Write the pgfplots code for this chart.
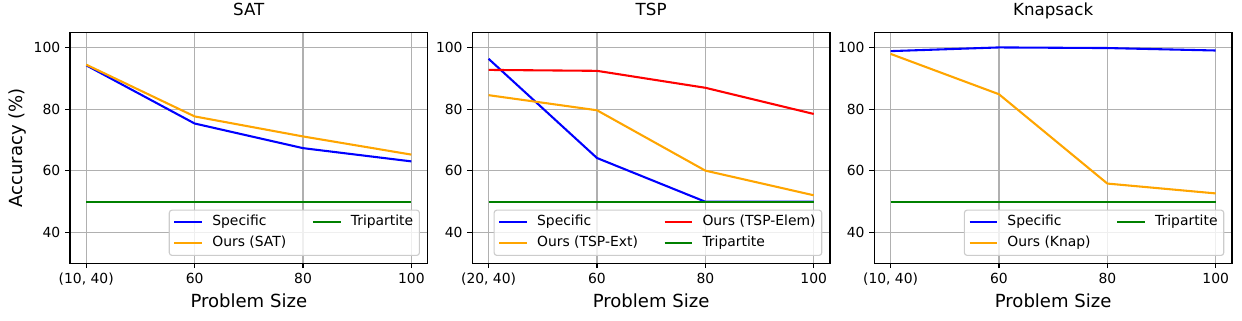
\documentclass[border=0pt]{standalone}
\usepackage{pgfplots}
\pgfplotsset{compat=1.18}
\usepackage{fontspec}
\setmainfont{DejaVu Sans}
\definecolor{mblue}{RGB}{0,0,255}
\definecolor{morange}{RGB}{255,165,0}
\definecolor{mgreen}{RGB}{0,128,0}
\definecolor{mred}{RGB}{255,0,0}
\definecolor{mgrid}{RGB}{176,176,176}
\definecolor{medge}{RGB}{204,204,204}
\pgfplotsset{
 myax/.style={
  width=257.5pt, height=166.32pt, scale only axis,
  xmin=-0.15, xmax=3.15, ymin=30, ymax=105,
  xtick={0,1,2,3}, ytick={40,60,80,100},
  tick align=outside, tick pos=left,
  major tick length=3.5pt,
  tick style={black, line width=0.8pt},
  axis line style={line width=0.8pt},
  grid=major, major grid style={mgrid, line width=0.8pt},
  tick label style={font=\fontsize{10}{12}\selectfont},
  /pgf/number format/assume math mode=true,
  title style={font=\fontsize{12}{14}\selectfont, at={(axis description cs:0.5,1.036)}, anchor=base},
  xlabel style={font=\fontsize{13}{15}\selectfont, at={(axis description cs:0.5,-0.19)}, anchor=base},
  xlabel={Problem Size},
  every axis plot/.append style={line width=1.5pt, line join=round},
  legend image code/.code={\draw[##1] (0pt,0pt) -- (20pt,0pt);},
  legend columns=2,
  legend cell align=left,
  legend style={at={(axis description cs:1,0)}, anchor=south east, xshift=-5.5pt, yshift=5.3pt,
    draw=medge, line width=0.8pt, rounded corners=2pt, fill=white, fill opacity=0.8, text opacity=1, draw opacity=1,
    font=\fontsize{10}{12}\selectfont, inner xsep=3pt, inner ysep=2.4pt, row sep=2.4pt,
    nodes={inner sep=1.5pt, text height=7.5pt, text depth=2.2pt},
    /tikz/every odd column/.append style={column sep=5pt},
    /tikz/every even column/.append style={column sep=17pt}},
 }
}
\begin{document}
\begin{tikzpicture}
% SAT
\begin{axis}[myax, at={(0pt,0pt)}, anchor=south west, title={SAT},
  xticklabels={{(10, 40)},60,80,100},
  ylabel={Accuracy (\%)},
  ylabel style={font=\fontsize{13}{15}\selectfont, at={(axis description cs:-0.134,0.5)}, anchor=base}]
\addplot[mblue, forget plot] coordinates {(0,94.3) (1,75.4) (2,67.4) (3,63.1)};
\addplot[morange, forget plot] coordinates {(0,94.5) (1,77.7) (2,71.2) (3,65.3)};
\addplot[mgreen, forget plot] coordinates {(0,50) (1,50) (2,50) (3,50)};
\addlegendimage{mblue, line width=1.5pt}\addlegendentry{Specific}
\addlegendimage{mgreen, line width=1.5pt}\addlegendentry{Tripartite}
\addlegendimage{morange, line width=1.5pt}\addlegendentry{Ours (SAT)}
\end{axis}
% TSP
\begin{axis}[myax, at={(289.68pt,0pt)}, anchor=south west, title={TSP},
  xticklabels={{(20, 40)},60,80,100}]
\addplot[mblue, forget plot] coordinates {(0,96.4) (1,64.2) (2,50) (3,50)};
\addplot[morange, forget plot] coordinates {(0,84.6) (1,79.7) (2,60.1) (3,52.1)};
\addplot[mred, forget plot] coordinates {(0,92.8) (1,92.5) (2,87.0) (3,78.5)};
\addplot[mgreen, forget plot] coordinates {(0,50) (1,50) (2,50) (3,50)};
\addlegendimage{mblue, line width=1.5pt}\addlegendentry{Specific}
\addlegendimage{mred, line width=1.5pt}\addlegendentry{Ours (TSP-Elem)}
\addlegendimage{morange, line width=1.5pt}\addlegendentry{Ours (TSP-Ext)}
\addlegendimage{mgreen, line width=1.5pt}\addlegendentry{Tripartite}
\end{axis}
% Knapsack
\begin{axis}[myax, at={(579.12pt,0pt)}, anchor=south west, title={Knapsack},
  xticklabels={{(10, 40)},60,80,100}]
\addplot[mblue, forget plot] coordinates {(0,98.9) (1,100.1) (2,99.9) (3,99.1)};
\addplot[morange, forget plot] coordinates {(0,98.0) (1,84.9) (2,55.9) (3,52.7)};
\addplot[mgreen, forget plot] coordinates {(0,50) (1,50) (2,50) (3,50)};
\addlegendimage{mblue, line width=1.5pt}\addlegendentry{Specific}
\addlegendimage{mgreen, line width=1.5pt}\addlegendentry{Tripartite}
\addlegendimage{morange, line width=1.5pt}\addlegendentry{Ours (Knap)}
\end{axis}
\pgfresetboundingbox
\path (-50.4pt,-40.8pt) rectangle (843.84pt,189.6pt);
\end{tikzpicture}
\end{document}
